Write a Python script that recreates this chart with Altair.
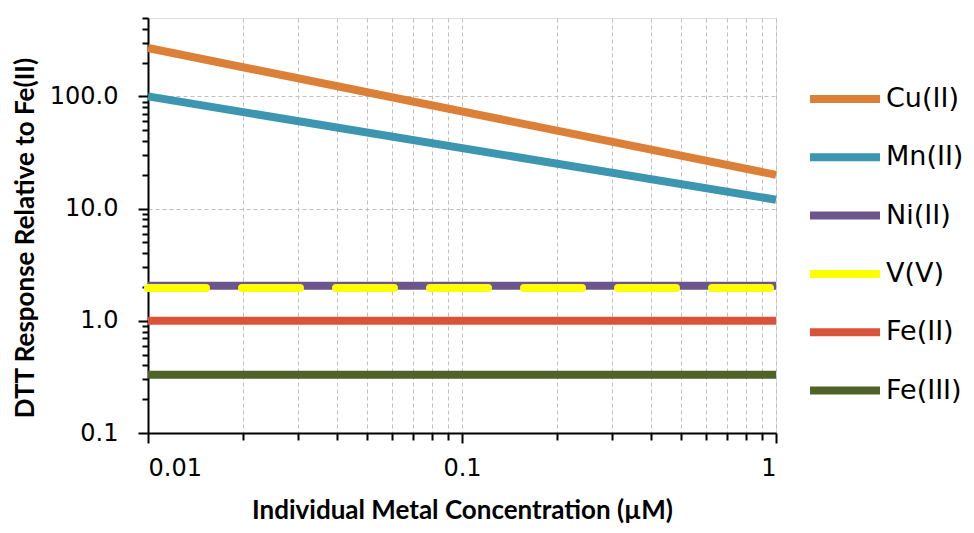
import altair as alt
import pandas as pd

# ---- data ----
series = ["Cu(II)", "Mn(II)", "Ni(II)", "V(V)", "Fe(II)", "Fe(III)"]
colors = ["#DC7F37", "#3C96AF", "#6C548D", "#FFFF00", "#D9533A", "#4F6228"]
conc = [0.01, 1.0]
cu = [270, 20]
mn = [100, 12]
ni = [2.05, 2.05]
vv = [1.96, 1.96]
fe2 = [1.0, 1.0]
fe3 = [0.33, 0.33]

x_major = [0.01, 0.1, 1]
x_minor = [0.02, 0.03, 0.04, 0.05, 0.06, 0.07, 0.08, 0.09,
           0.2, 0.3, 0.4, 0.5, 0.6, 0.7, 0.8, 0.9]
y_major = [0.1, 1, 10, 100]
y_minor = [0.2, 0.3, 0.4, 0.5, 0.6, 0.7, 0.8, 0.9,
           2, 3, 4, 5, 6, 7, 8, 9,
           20, 30, 40, 50, 60, 70, 80, 90,
           200, 300, 400, 500]

rows = []
for name, vals in zip(series, [cu, mn, ni, vv, fe2, fe3]):
    for c, v in zip(conc, vals):
        rows.append({"series": name, "conc": c, "resp": v})
df = pd.DataFrame(rows)

TFONT = "Lato"
LFONT = "DejaVu Sans"
W, H = 628, 415

xscale = alt.Scale(type="log", domain=[0.01, 1], nice=False)
yscale = alt.Scale(type="log", domain=[0.1, 500], nice=False)
cscale = alt.Scale(domain=series, range=colors)

grid_kw = dict(grid=True, gridColor="#BFBFBF", gridDash=[4, 3], gridWidth=1)

x_major_axis = alt.Axis(values=x_major, orient="bottom", tickSize=10, tickWidth=2,
                        tickColor="black", domainColor="black", domainWidth=2,
                        labelExpr="format(datum.value, '~g')", labelFontSize=24,
                        labelFont=LFONT, labelColor="black", labelPadding=13,
                        title="Individual Metal Concentration (\u00b5M)",
                        titleFont=TFONT, titleFontSize=26, titleFontWeight="bold",
                        titleColor="black", titleY=85,
                        titleBaseline="alphabetic", **grid_kw)
x_minor_axis = alt.Axis(values=x_minor, orient="bottom", tickSize=7, tickWidth=2,
                        tickColor="black", domain=False, labels=False, title=None,
                        **grid_kw)
y_major_axis = alt.Axis(values=y_major, orient="left", tickSize=10, tickWidth=2,
                        tickColor="black", domainColor="black", domainWidth=2,
                        format=".1f", labelFontSize=24, labelFont=LFONT,
                        labelColor="black", labelPadding=20,
                        title="DTT Response Relative to Fe(II)", titleFont=TFONT,
                        titleFontSize=26, titleFontWeight="bold", titleColor="black",
                        titleAngle=-90, titleX=-123, titleY=H / 2 + 12,
                        titleBaseline="middle", titleAlign="center", **grid_kw)
y_minor_axis = alt.Axis(values=y_minor, orient="left", tickSize=6, tickWidth=2,
                        tickColor="black", domain=False, labels=False, title=None,
                        grid=False)

legend = alt.Legend(title=None, orient="none", legendX=662, legendY=67,
                    symbolType="M-3.5,0H3.5", symbolSize=400, symbolStrokeWidth=8,
                    symbolOffset=21, labelOffset=27, labelFontSize=27,
                    labelFont=LFONT, labelColor="black", rowPadding=26.3, padding=0)

solid = alt.Chart(df).transform_filter(alt.datum.series != "V(V)").mark_line(
    strokeWidth=8
).encode(
    x=alt.X("conc:Q", scale=xscale, axis=x_major_axis),
    y=alt.Y("resp:Q", scale=yscale, axis=y_major_axis),
    color=alt.Color("series:N", scale=cscale, legend=legend),
    detail="series:N",
)

dashed = alt.Chart(df).transform_filter(alt.datum.series == "V(V)").mark_line(
    strokeWidth=8, strokeDash=[58, 36], strokeCap="round"
).encode(
    x=alt.X("conc:Q", scale=xscale, axis=x_minor_axis),
    y=alt.Y("resp:Q", scale=yscale, axis=y_minor_axis),
    color=alt.Color("series:N", scale=cscale, legend=legend),
)

chart = alt.layer(solid, dashed).resolve_axis(
    x="independent", y="independent"
).properties(
    width=W, height=H,
    autosize=alt.AutoSizeParams(type="none"),
    padding={"left": 140, "top": 10, "right": 190, "bottom": 92},
).configure_view(stroke=None).configure(background="white")

chart.save("out.html", embed_options={"renderer": "svg", "actions": False})
